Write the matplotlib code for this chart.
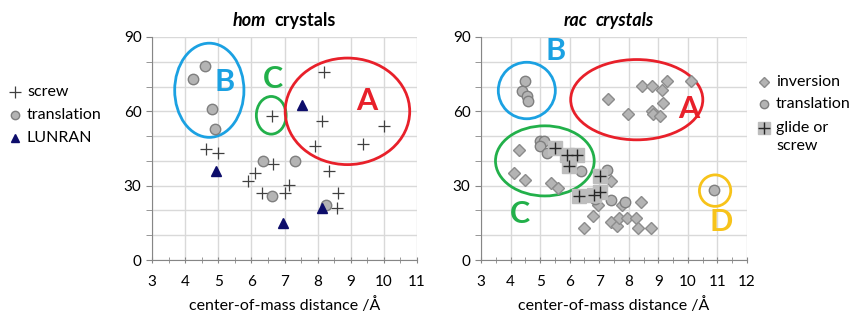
import numpy as np
import matplotlib
matplotlib.use('Agg')
import matplotlib.pyplot as plt
from matplotlib.patches import Ellipse
from matplotlib.ticker import MultipleLocator

plt.rcParams['font.family'] = ['Lato', 'DejaVu Sans']

# hom crystals
hom_screw_x = [8.19, 8.13, 10.0, 9.36, 7.91, 6.61, 4.64, 4.98, 6.64, 6.12, 5.90, 8.33, 6.32, 7.00, 7.15, 8.62, 8.59]
hom_screw_y = [76.0, 56.3, 53.9, 46.8, 46.0, 58.1, 45.0, 43.0, 38.7, 35.0, 31.7, 35.8, 27.0, 27.0, 30.3, 27.0, 20.8]
hom_trans_x = [4.59, 4.24, 4.81, 4.91, 6.36, 6.61, 7.32, 8.24]
hom_trans_y = [78.4, 73.0, 61.0, 53.0, 40.0, 26.0, 40.0, 22.2]
hom_lunran_x = [7.53, 4.92, 6.95, 8.13]
hom_lunran_y = [62.7, 35.8, 15.0, 20.8]

# rac crystals
rac_inv_x = [7.29, 8.46, 8.77, 9.29, 10.09, 9.11, 9.17, 7.99, 8.77, 8.81, 9.04,
             4.30, 4.12, 4.50, 5.38, 5.61, 7.39, 6.97, 6.80, 6.49, 7.41, 7.59,
             7.68, 7.95, 8.23, 8.32, 8.40, 8.74, 7.78]
rac_inv_y = [65.0, 70.3, 70.3, 72.1, 72.1, 68.8, 63.3, 59.0, 60.0, 59.0, 58.0,
             44.2, 35.2, 32.1, 31.1, 29.0, 31.8, 22.2, 17.9, 12.9, 15.2, 13.9,
             17.0, 17.0, 17.0, 12.9, 23.3, 12.9, 22.0]
rac_trans_x = [4.48, 4.38, 4.56, 4.58, 5.01, 5.12, 4.99, 5.24, 6.39, 7.25, 7.39, 7.87, 6.85, 10.90]
rac_trans_y = [72.4, 68.2, 66.2, 64.1, 48.2, 48.2, 46.2, 43.3, 36.1, 36.4, 24.3, 23.3, 24.5, 28.1]
rac_glide_x = [5.50, 5.92, 6.25, 5.97, 7.01, 6.30, 6.82, 7.04]
rac_glide_y = [45.3, 42.5, 42.5, 38.1, 34.1, 26.0, 26.3, 27.3]

RED = '#e8202a'
BLUE = '#1ba1e2'
GREEN = '#22b04a'
YELLOW = '#f7c31a'

fig = plt.figure(figsize=(8.59, 3.27), dpi=100)
ax1 = fig.add_axes([152/859, 1-260/327, 265/859, 223/327])
ax2 = fig.add_axes([481/859, 1-260/327, 266/859, 223/327])


def style(ax, xmax):
    ax.set_xlim(3, xmax)
    ax.set_ylim(0, 90)
    ax.xaxis.set_major_locator(MultipleLocator(1))
    ax.xaxis.set_minor_locator(MultipleLocator(0.5))
    ax.yaxis.set_major_locator(MultipleLocator(30))
    ax.yaxis.set_minor_locator(MultipleLocator(10))
    ax.grid(True, which='major', color='#d9d9d9', lw=1)
    ax.grid(True, which='minor', axis='y', color='#d9d9d9', lw=1)
    for s in ['top', 'right']:
        ax.spines[s].set_visible(False)
    for s in ['left', 'bottom']:
        ax.spines[s].set_color('#868686')
    ax.tick_params(axis='x', which='both', direction='inout', length=5, color='#868686', labelsize=11, pad=8)
    ax.tick_params(axis='y', which='both', direction='out', length=4, color='#868686', labelsize=11)
    ax.set_axisbelow(True)
    ax.set_xlabel('center-of-mass distance /Å', fontsize=11.5, labelpad=6)


style(ax1, 11)
style(ax2, 12)

# hom plot
ax1.plot(hom_screw_x, hom_screw_y, '+', color='#404040', ms=9, mew=0.9, label='screw', clip_on=False)
ax1.plot(hom_trans_x, hom_trans_y, 'o', mfc='#b4b4b4', mec='#7f7f7f', ms=7.5, label='translation')
ax1.plot(hom_lunran_x, hom_lunran_y, '^', color='#0d0d6b', ms=7, label='LUNRAN')

ax1.add_patch(Ellipse((4.73, 68.5), 2.09, 38, fill=False, ec=BLUE, lw=2))
ax1.add_patch(Ellipse((6.60, 58.4), 0.90, 15.2, fill=False, ec=GREEN, lw=2))
ax1.add_patch(Ellipse((8.90, 60.0), 3.76, 43, fill=False, ec=RED, lw=2))
ax1.text(5.19, 72, 'B', color=BLUE, fontsize=22, fontweight='bold', ha='center', va='center')
ax1.text(6.65, 73, 'C', color=GREEN, fontsize=22, fontweight='bold', ha='center', va='center')
ax1.text(9.47, 64, 'A', color=RED, fontsize=22, fontweight='bold', ha='center', va='center')

# titles: italic part + plain bold part
ax1.text(0.43, 1.072, 'hom', transform=ax1.transAxes, fontsize=13, fontweight='bold',
         fontstyle='italic', ha='right', va='center')
ax1.text(0.46, 1.072, 'crystals', transform=ax1.transAxes, fontsize=13, fontweight='bold',
         ha='left', va='center')

# rac plot
ax2.plot(rac_inv_x, rac_inv_y, 'D', mfc='#b4b4b4', mec='#8c8c8c', ms=6, label='inversion')
ax2.plot(rac_trans_x, rac_trans_y, 'o', mfc='#b4b4b4', mec='#7f7f7f', ms=7.5, label='translation')
ax2.plot(rac_glide_x, rac_glide_y, 's', color='#bdbdbd', ms=10, label='glide or\nscrew')
ax2.plot(rac_glide_x, rac_glide_y, '+', color='#262626', ms=9, mew=1)

ax2.add_patch(Ellipse((4.55, 68.4), 1.93, 22.8, fill=False, ec=BLUE, lw=2))
ax2.add_patch(Ellipse((5.16, 40.0), 3.34, 28.3, fill=False, ec=GREEN, lw=2))
ax2.add_patch(Ellipse((8.27, 64.7), 4.47, 32.4, fill=False, ec=RED, lw=2))
ax2.add_patch(Ellipse((10.92, 28.0), 1.06, 12.7, fill=False, ec=YELLOW, lw=2))
ax2.text(5.52, 84.4, 'B', color=BLUE, fontsize=22, fontweight='bold', ha='center', va='center', clip_on=False)
ax2.text(10.04, 61, 'A', color=RED, fontsize=22, fontweight='bold', ha='center', va='center')
ax2.text(4.31, 18.6, 'C', color=GREEN, fontsize=22, fontweight='bold', ha='center', va='center')
ax2.text(11.11, 15.2, 'D', color=YELLOW, fontsize=22, fontweight='bold', ha='center', va='center')

ax2.text(0.40, 1.072, 'rac', transform=ax2.transAxes, fontsize=13, fontweight='bold',
         fontstyle='italic', ha='right', va='center')
ax2.text(0.43, 1.072, 'crystals', transform=ax2.transAxes, fontsize=13, fontweight='bold',
         fontstyle='italic', ha='left', va='center')

# legends (placed by hand in figure coords)
def legend_row(x, y, marker, text, **kw):
    fig.lines.append(plt.Line2D([x], [y], marker=marker, transform=fig.transFigure, ls='none', **kw))
    fig.text(x + 12/859, y, text, fontsize=11.5, va='center', ha='left')

legend_row(15/859, 1-92/327, '+', 'screw', color='#404040', ms=9, mew=0.9)
legend_row(15/859, 1-115/327, 'o', 'translation', mfc='#b4b4b4', mec='#7f7f7f', ms=6)
legend_row(15/859, 1-138/327, '^', 'LUNRAN', color='#0d0d6b', ms=6)

legend_row(764/859, 1-82/327, 'D', 'inversion', mfc='#b4b4b4', mec='#8c8c8c', ms=5)
legend_row(764/859, 1-104/327, 'o', 'translation', mfc='#b4b4b4', mec='#7f7f7f', ms=6)
legend_row(764/859, 1-128/327, 's', 'glide or', color='#bdbdbd', ms=8)
fig.lines.append(plt.Line2D([764/859], [1-128/327], marker='+', color='#262626', ms=8, mew=1,
                            transform=fig.transFigure, ls='none'))
fig.text(776/859, 1-146/327, 'screw', fontsize=11.5, va='center', ha='left')

fig.savefig('out.png', dpi=100)
